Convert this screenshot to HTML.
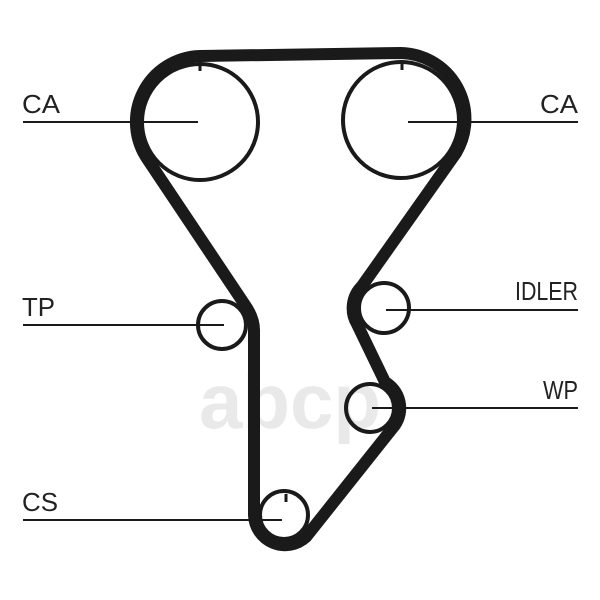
<!DOCTYPE html>
<html><head><meta charset="utf-8"><style>
html,body{margin:0;padding:0;background:#fff;}
svg{display:block;}
text{font-family:"Liberation Sans",sans-serif;font-size:26px;fill:#222;}
</style></head><body>
<svg width="600" height="600" viewBox="0 0 600 600" xmlns="http://www.w3.org/2000/svg">
<text x="290" y="428" text-anchor="middle" style="font-size:78px;fill:#dcdcdc;font-weight:bold;opacity:0.6">abcp</text>
<g stroke="#1a1a1a" fill="none">
<circle cx="200" cy="122" r="58" stroke-width="4"/>
<circle cx="401" cy="120" r="58" stroke-width="4"/>
<circle cx="222" cy="325" r="24" stroke-width="4"/>
<circle cx="384" cy="308" r="25" stroke-width="4"/>
<circle cx="370" cy="408" r="24" stroke-width="4"/>
<circle cx="284" cy="515" r="24" stroke-width="4"/>
<path d="M200,56 L401,53 A66,66 0 0 1 456,153 L362,286 A31,31 0 0 0 357,324 L385,382 A30,30 0 0 1 395,425 L306,537 A31,31 0 0 1 254,515 L254,330 Q254,318 245,305 L148,160 A66,66 0 0 1 200,56 Z" stroke-width="12" stroke-linejoin="round"/>
<g stroke-width="3">
<line x1="200" y1="62" x2="200" y2="71"/>
<line x1="402" y1="60" x2="402" y2="70"/>
<line x1="286" y1="494" x2="286" y2="502"/>
</g>
<g stroke-width="2">
<line x1="23" y1="122" x2="198" y2="122"/>
<line x1="408" y1="122" x2="578" y2="122"/>
<line x1="23" y1="325" x2="224" y2="325"/>
<line x1="386" y1="310" x2="578" y2="310"/>
<line x1="372" y1="408" x2="578" y2="408"/>
<line x1="23" y1="520" x2="282" y2="520"/>
</g>
</g>
<text x="22" y="113" textLength="38" lengthAdjust="spacingAndGlyphs">CA</text>
<text x="540" y="113" textLength="38" lengthAdjust="spacingAndGlyphs">CA</text>
<text x="22" y="316" textLength="33" lengthAdjust="spacingAndGlyphs">TP</text>
<text x="515" y="300" textLength="63" lengthAdjust="spacingAndGlyphs">IDLER</text>
<text x="543" y="399" textLength="35" lengthAdjust="spacingAndGlyphs">WP</text>
<text x="22" y="511" textLength="36" lengthAdjust="spacingAndGlyphs">CS</text>
</svg>
</body></html>
